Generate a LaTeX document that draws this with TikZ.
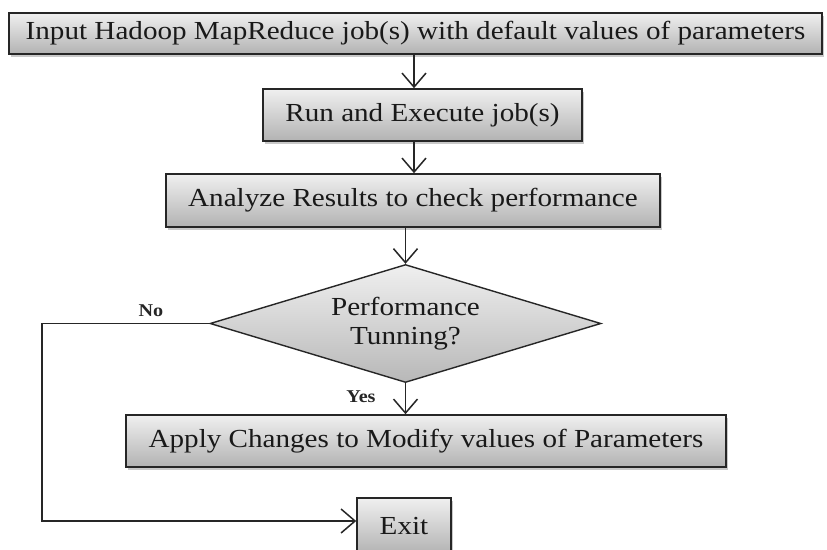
\documentclass[tikz,border=0pt]{standalone}
\usepackage{fontspec}
\setmainfont{Liberation Serif}[FakeStretch=1.12]
\usetikzlibrary{arrows.meta,shapes.geometric,shadows}
\begin{document}
\begin{tikzpicture}[x=1pt,y=-1pt,
  box/.style={draw=black!85,line width=1.6pt,rectangle,inner sep=0pt,
    top color=black!6,bottom color=black!30,
    drop shadow={shadow xshift=1.5pt,shadow yshift=-3pt,opacity=0.35,fill=black!60},
    text=black!90,font=\fontsize{26}{29}\selectfont},
  dec/.style={draw=black!85,line width=1.4pt,diamond,aspect=3.3,inner sep=0pt,
    top color=black!6,bottom color=black!28,
    text=black!90,font=\fontsize{26}{29}\selectfont,align=center},
  conn/.style={draw=black!85,line width=1.5pt,-{Straight Barb[length=14pt,width=24pt,line width=1.5pt]}},
  lab/.style={font=\bfseries\fontsize{18}{20}\selectfont,text=black!85}]
\useasboundingbox (0,0) rectangle (827,549);
\clip (0,0) rectangle (827,549);
\fill[white] (0,0) rectangle (827,549);
\node[box,minimum width=813pt,minimum height=41pt] (b1) at (415.5,33.5) {Input Hadoop MapReduce job(s) with default values of parameters};
\node[box,minimum width=319pt,minimum height=52pt] (b2) at (422.5,115) {Run and Execute job(s)};
\node[box,minimum width=494pt,minimum height=53pt] (b3) at (413,200.5) {Analyze Results to check performance};
\node[dec,minimum width=391pt,minimum height=118pt] (d) at (405.5,323.5) {Performance\\Tunning?};
\node[box,minimum width=600pt,minimum height=52pt] (b4) at (426,441) {Apply Changes to Modify values of Parameters};
\node[box,minimum width=94pt,minimum height=56pt] (ex) at (404,526) {Exit};
\coordinate (ax) at (414,0);
\coordinate (dx) at (405.5,0);
\coordinate (lx) at (42,0);
\draw[conn] (b1.south -| ax) -- (b2.north -| ax);
\draw[conn] (b2.south -| ax) -- (b3.north -| ax);
\draw[conn] (b3.south -| dx) -- (d.north);
\draw[conn] (d.south) -- (b4.north -| d.south);
\draw[conn] (d.west) -- (d.west -| lx) -- (lx |- 0,521) -- (ex.west |- 0,521);
\node[lab] (no) at (151,311) {No};
\node[lab] (yes) at (361,397) {Yes};
\end{tikzpicture}
\end{document}
